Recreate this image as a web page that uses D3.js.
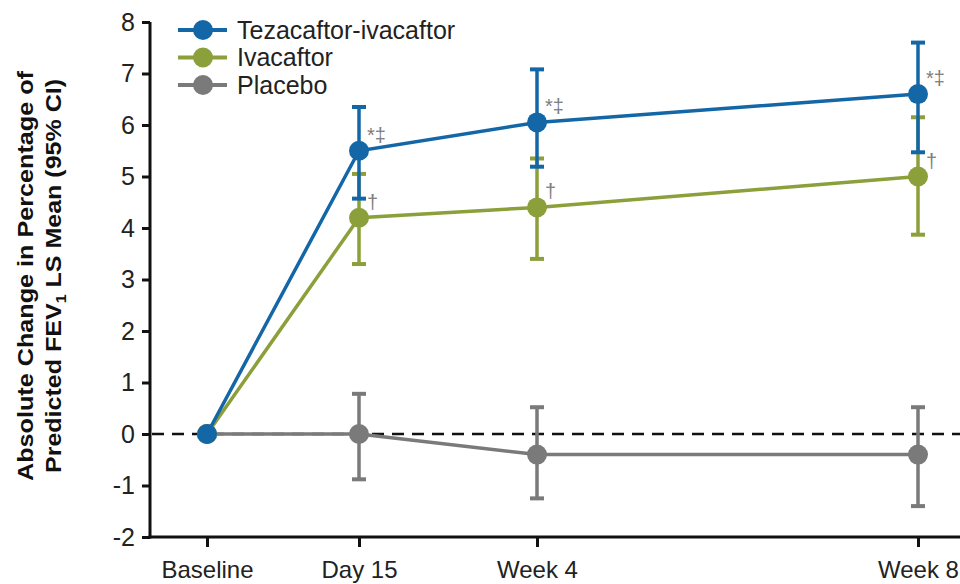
<!DOCTYPE html>
<html>
<head>
<meta charset="utf-8">
<script src="https://cdn.jsdelivr.net/npm/d3@7"></script>
<style>
  html, body { margin: 0; padding: 0; background: #fff; }
  svg { display: block; font-family: "Liberation Sans", Arial, sans-serif; }
</style>
</head>
<body>
<svg id="chart" width="960" height="584"></svg>
<script>
// Visits and their study day
const categories = ["Baseline", "Day 15", "Week 4", "Week 8"];
const studyDay = [0, 15, 28, 56];

// LS mean absolute change in ppFEV1 with 95% CI
const tezaMean = [0, 5.5, 6.05, 6.6];
const tezaLow = [null, 4.57, 5.19, 5.47];
const tezaHigh = [null, 6.35, 7.08, 7.6];

const ivaMean = [0, 4.2, 4.4, 5.0];
const ivaLow = [null, 3.3, 3.4, 3.87];
const ivaHigh = [null, 5.05, 5.35, 6.15];

const placeboMean = [0, 0, -0.4, -0.4];
const placeboLow = [null, -0.88, -1.25, -1.4];
const placeboHigh = [null, 0.78, 0.52, 0.52];

// Significance symbols beside each mean
const tezaMarks = ["", "*\u2021", "*\u2021", "*\u2021"];
const ivaMarks = ["", "\u2020", "\u2020", "\u2020"];

const seriesNames = ["Tezacaftor-ivacaftor", "Ivacaftor", "Placebo"];
const yTicks = [-2, -1, 0, 1, 2, 3, 4, 5, 6, 7, 8];

const colors = { teza: "#1467a7", iva: "#8ba03a", placebo: "#7a7a7a" };

const series = [
  { key: "placebo", name: seriesNames[2], mean: placeboMean, low: placeboLow, high: placeboHigh, marks: null },
  { key: "iva", name: seriesNames[1], mean: ivaMean, low: ivaLow, high: ivaHigh, marks: ivaMarks },
  { key: "teza", name: seriesNames[0], mean: tezaMean, low: tezaLow, high: tezaHigh, marks: tezaMarks }
];

const svg = d3.select("#chart");

const x = d3.scaleLinear().domain(studyDay).range([207, 359, 537, 918]);
const y = d3.scaleLinear().domain([-2, 8]).range([537, 22]);
const axisLeft = 150;

// Reference line at zero
svg.append("line")
  .attr("x1", axisLeft).attr("x2", 960)
  .attr("y1", y(0)).attr("y2", y(0))
  .attr("stroke", "#111").attr("stroke-width", 2.5)
  .attr("stroke-dasharray", "12,8")
  .attr("stroke-dashoffset", -22);

// Y axis
const yAxis = svg.append("g")
  .attr("transform", `translate(${axisLeft},0)`)
  .call(d3.axisLeft(y).tickValues(yTicks).tickSize(8).tickPadding(7).tickFormat(d3.format("d")));
yAxis.select(".domain").attr("stroke", "#111").attr("stroke-width", 3)
  .attr("d", `M0,${y(8)}V${y(-2) + 1.5}`);
yAxis.selectAll(".tick line").attr("stroke", "#111").attr("stroke-width", 3);
yAxis.selectAll(".tick text")
  .attr("font-size", 25).attr("fill", "#222")
  .attr("font-family", "Liberation Sans, Arial, sans-serif")
  .text(d => d < 0 ? "-" + Math.abs(d) : d);

// X axis
const xAxis = svg.append("g")
  .attr("transform", `translate(0,${y(-2)})`)
  .call(d3.axisBottom(x).tickValues(studyDay).tickSize(10).tickPadding(14)
    .tickFormat((d, i) => categories[i]));
xAxis.select(".domain").attr("stroke", "#111").attr("stroke-width", 3)
  .attr("d", `M${axisLeft - 1.5},0H960`);
xAxis.selectAll(".tick line").attr("stroke", "#111").attr("stroke-width", 3);
xAxis.selectAll(".tick text")
  .attr("font-size", 24).attr("fill", "#222")
  .attr("font-family", "Liberation Sans, Arial, sans-serif");

// Y axis title, two rotated lines
const title = svg.append("g")
  .attr("transform", "translate(0,276) rotate(-90)")
  .attr("font-weight", "bold").attr("font-size", 22).attr("fill", "#111")
  .attr("text-anchor", "middle");
title.append("text")
  .attr("x", 0).attr("y", 33)
  .attr("textLength", 410).attr("lengthAdjust", "spacingAndGlyphs")
  .text("Absolute Change in Percentage of");
const t2 = title.append("text")
  .attr("x", 0).attr("y", 61)
  .attr("textLength", 394).attr("lengthAdjust", "spacingAndGlyphs");
t2.append("tspan").text("Predicted FEV");
t2.append("tspan").attr("font-size", 14).attr("dy", 5).text("1");
t2.append("tspan").attr("dy", -5).text(" LS Mean (95% CI)");

// Series: error bars, connecting line, markers, symbols
const capHalf = 7;
series.forEach(s => {
  const g = svg.append("g");
  const c = colors[s.key];
  const idx = d3.range(studyDay.length).filter(i => s.low[i] !== null);

  g.selectAll("line.bar").data(idx).join("line")
    .attr("x1", i => x(studyDay[i])).attr("x2", i => x(studyDay[i]))
    .attr("y1", i => y(s.low[i])).attr("y2", i => y(s.high[i]))
    .attr("stroke", c).attr("stroke-width", 3.5);
  ["low", "high"].forEach(k => {
    g.selectAll("line.cap-" + k).data(idx).join("line")
      .attr("x1", i => x(studyDay[i]) - capHalf).attr("x2", i => x(studyDay[i]) + capHalf)
      .attr("y1", i => y(s[k][i])).attr("y2", i => y(s[k][i]))
      .attr("stroke", c).attr("stroke-width", 4);
  });

  const line = d3.line().x((d, i) => x(studyDay[i])).y(d => y(d));
  g.append("path").datum(s.mean)
    .attr("d", line).attr("fill", "none")
    .attr("stroke", c).attr("stroke-width", 3.5);

  g.selectAll("circle").data(s.mean).join("circle")
    .attr("cx", (d, i) => x(studyDay[i])).attr("cy", d => y(d))
    .attr("r", 10).attr("fill", c);

  if (s.marks) {
    g.selectAll("text").data(s.marks).join("text")
      .attr("x", (d, i) => x(studyDay[i]) + 8)
      .attr("y", (d, i) => y(s.mean[i]) - 16)
      .attr("dy", "0.35em")
      .attr("font-size", 20).attr("fill", "#7d7d7d")
      .text(d => d);
  }
});

// Legend
const legend = svg.append("g");
seriesNames.forEach((name, i) => {
  const key = ["teza", "iva", "placebo"][i];
  const ly = 30 + i * 27.5;
  legend.append("line")
    .attr("x1", 178).attr("x2", 227).attr("y1", ly).attr("y2", ly)
    .attr("stroke", colors[key]).attr("stroke-width", 4);
  legend.append("circle")
    .attr("cx", 203).attr("cy", ly).attr("r", 10).attr("fill", colors[key]);
  legend.append("text")
    .attr("x", 237).attr("y", ly).attr("dy", "0.35em")
    .attr("font-size", 25).attr("fill", "#222")
    .text(name);
});
</script>
</body>
</html>
